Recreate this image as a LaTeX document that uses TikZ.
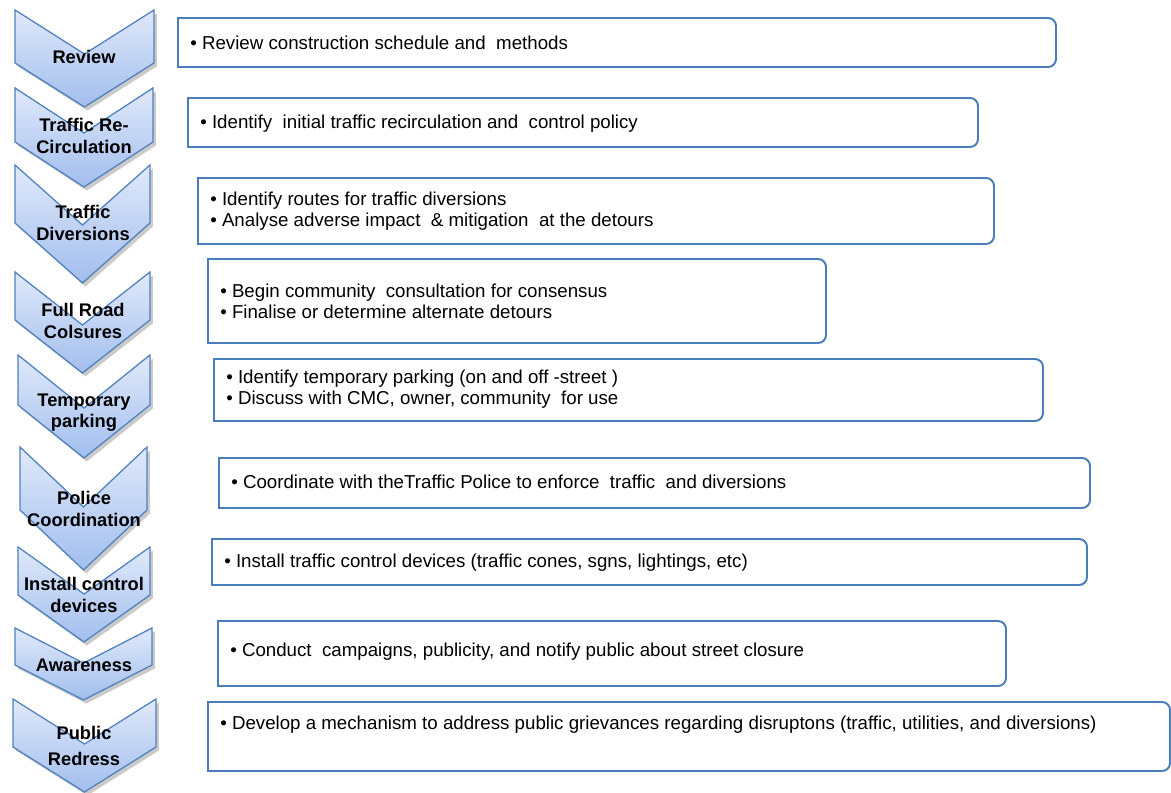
\documentclass[tikz,border=0pt]{standalone}
\usepackage{fontspec}
\setmainfont{Liberation Sans}
\usetikzlibrary{shadows}

\definecolor{stepline}{HTML}{4F81BD}
\definecolor{steptop}{HTML}{E0E9FA}
\definecolor{stepbot}{HTML}{A2BEEE}
\definecolor{boxline}{HTML}{4A7EBB}

% chevron: left, right, top, side bottom, tip
\newcommand{\chev}[5]{%
  \path[stepshape] (#1,#3) -- ({(#1+#2)/2},{#3+#5-#4}) -- (#2,#3) -- (#2,#4)
    -- ({(#1+#2)/2},#5) -- (#1,#4) -- cycle;}
% text panel: left, right, top, bottom (round corners on the right only)
\newcommand{\panel}[4]{%
  \draw[boxedge, rounded corners=5.7pt] ({#1+30},#3) -- (#2,#3) -- (#2,#4) -- ({#1+30},#4);
  \draw[boxedge] ({#1+30},#4) -- (#1,#4) -- (#1,#3) -- ({#1+30},#3);}

\begin{document}
\begin{tikzpicture}[x=0.025cm, y=-0.025cm,
    stepshape/.style={draw=stepline, line width=0.9pt,
                      top color=steptop, bottom color=stepbot,
                      drop shadow={shadow xshift=2pt, shadow yshift=-2.5pt,
                                   opacity=0.35, fill=black!60}},
    steptext/.style={align=center, inner sep=0pt,
                     font=\fontsize{13}{15}\selectfont\bfseries},
    boxedge/.style={draw=boxline, line width=1.4pt},
    boxtext/.style={align=left, anchor=west, inner sep=0pt,
                    font=\fontsize{13.3}{15}\selectfont}
  ]
  \useasboundingbox (0,0) rectangle (1171,793);

  % steps
  \chev{15}{154}{10}{63}{107}
  \node[steptext] (review) at (84,57) {Review};
  \chev{15}{153}{88}{142}{187}
  \node[steptext] (recirc) at (84,136) {Traffic Re-\\Circulation};
  \chev{15}{150}{165}{223}{283}
  \node[steptext] (divers) at (83,223) {Traffic\\Diversions};
  \chev{15}{150}{272}{320}{373}
  \node[steptext] (closure) at (83,321) {Full Road\\Colsures};
  \chev{18}{150}{355}{405}{458}
  \node[steptext] (parking) at (84,413) {Temporary\\parking};
  \chev{20}{147}{447}{510}{570}
  \node[steptext] (police) at (84,509) {Police\\Coordination};
  \chev{18}{150}{547}{595}{642}
  \node[steptext] (devices) at (84,595) {Install control\\devices};
  \chev{15}{152}{628}{665}{700}
  \node[steptext] (aware) at (84,665) {Awareness};
  \chev{13}{156}{699}{747}{792}
  \node[steptext, font=\fontsize{13}{19}\selectfont\bfseries]
    (redress) at (84,746) {Public\\Redress};

  % panels
  \panel{178}{1056}{18}{67}
  \node[boxtext] (review-t) at (190,43)
    {\textbullet\ Review construction schedule and~ methods};
  \panel{188}{978}{98}{147}
  \node[boxtext] (recirc-t) at (200,124)
    {\textbullet\ Identify~ initial traffic recirculation and~ control policy};
  \panel{198}{994}{178}{244}
  \node[boxtext] (divers-t) at (210,211.5)
    {\textbullet\ Identify routes for traffic diversions\\
     \textbullet\ Analyse adverse impact~ \& mitigation~ at the detours};
  \panel{208}{826}{259}{343}
  \node[boxtext] (closure-t) at (220,301)
    {\textbullet\ Begin community~ consultation for consensus\\
     \textbullet\ Finalise or determine alternate detours};
  \panel{214}{1043}{359}{421}
  \node[boxtext] (parking-t) at (226,389.5)
    {\textbullet\ Identify temporary parking (on and off -street )\\
     \textbullet\ Discuss with CMC, owner, community~ for use};
  \panel{219}{1090}{458}{508}
  \node[boxtext] (police-t) at (231,482)
    {\textbullet\ Coordinate with theTraffic Police to enforce~ traffic~ and diversions};
  \panel{212}{1087}{539}{585}
  \node[boxtext] (devices-t) at (224,563)
    {\textbullet\ Install traffic control devices (traffic cones, sgns, lightings, etc)};
  \panel{218}{1006}{621}{686}
  \node[boxtext] (aware-t) at (230,652)
    {\textbullet\ Conduct~ campaigns, publicity, and notify public about street closure};
  \panel{208}{1170}{702}{771}
  \node[boxtext] (redress-t) at (220,725)
    {\textbullet\ Develop a mechanism to address public grievances regarding disruptons (traffic, utilities, and diversions)};
\end{tikzpicture}
\end{document}
